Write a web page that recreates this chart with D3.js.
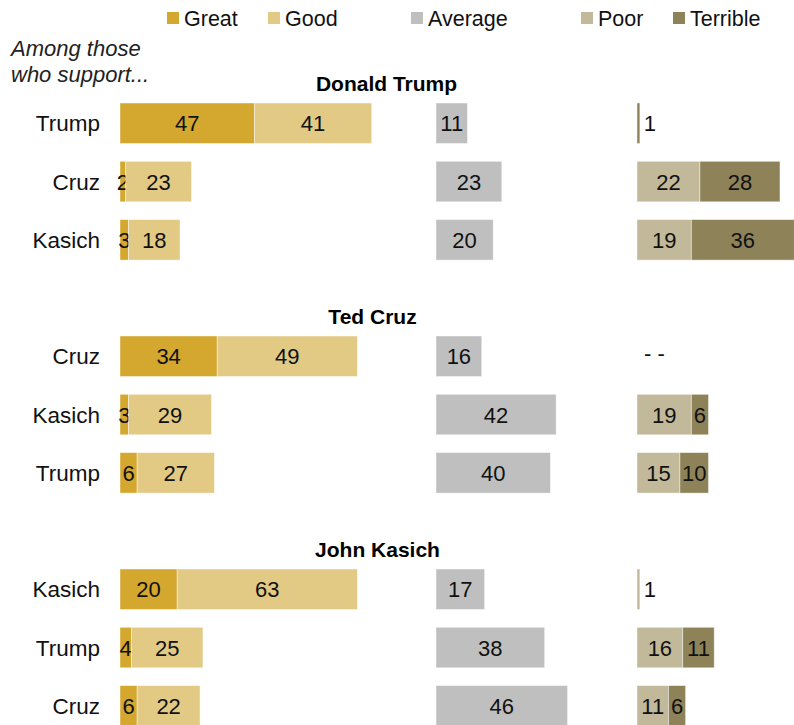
<!DOCTYPE html>
<html>
<head>
<meta charset="utf-8">
<script src="https://cdn.jsdelivr.net/npm/d3@7/dist/d3.min.js"></script>
<style>
  html, body { margin: 0; padding: 0; background: #fff; }
  svg { display: block; font-family: "Liberation Sans", Arial, sans-serif; }
</style>
</head>
<body>
<svg id="chart" width="794" height="725"></svg>
<script>
// ---------- data ----------
const sections = ["Donald Trump", "Ted Cruz", "John Kasich"];
const supporters = [
  ["Trump", "Cruz", "Kasich"],
  ["Cruz", "Kasich", "Trump"],
  ["Kasich", "Trump", "Cruz"]
];
const categories = ["Great", "Good", "Average", "Poor", "Terrible"];
const great = [[47, 2, 3], [34, 3, 6], [20, 4, 6]];
const good = [[41, 23, 18], [49, 29, 27], [63, 25, 22]];
const average = [[11, 23, 20], [16, 42, 40], [17, 38, 46]];
const poor = [[0, 22, 19], [null, 19, 15], [1, 16, 11]];
const terrible = [[1, 28, 36], [null, 6, 10], [0, 11, 6]];
const colors = ["#D4A72E", "#E2CA84", "#BFBFBF", "#C1B99A", "#8E8259"];

// ---------- layout ----------
const svg = d3.select("#chart");
const x = d3.scaleLinear().domain([0, 100]).range([0, 286]);
const colStart = { pos: 120, avg: 436, neg: 637 };
const sectionY = d3.scaleLinear().domain([0, 1]).range([103, 336]);
const rowStep = 58.3, barH = 40.5;
const titleX = [386.5, 372.5, 377.5];
const fs = 22;

// legend
const legendX = [167, 268, 411, 581, 673];
const leg = svg.append("g");
categories.forEach((c, i) => {
  leg.append("rect").attr("x", legendX[i]).attr("y", 12).attr("width", 12).attr("height", 12).attr("fill", colors[i]);
  leg.append("text").attr("x", legendX[i] + 17).attr("y", 26).attr("font-size", 21.5).attr("fill", "#111").text(c);
});

// intro note
svg.append("text").attr("x", 11).attr("y", 56).attr("font-size", 22).attr("font-style", "italic").attr("fill", "#222").text("Among those");
svg.append("text").attr("x", 11).attr("y", 82).attr("font-size", 22).attr("font-style", "italic").attr("fill", "#222").text("who support...");

sections.forEach((title, s) => {
  const top = sectionY(s);
  svg.append("text").attr("x", titleX[s]).attr("y", top - 12).attr("text-anchor", "middle")
    .attr("font-size", 21).attr("font-weight", "bold").attr("fill", "#000").text(title);

  supporters[s].forEach((name, r) => {
    const y0 = top + r * rowStep;
    const cy = y0 + barH / 2;
    const g = svg.append("g");
    g.append("text").attr("x", 100).attr("y", cy + 8).attr("text-anchor", "end")
      .attr("font-size", 22.5).attr("fill", "#111").text(name);

    const groups = [
      { start: colStart.pos, vals: [great[s][r], good[s][r]], cols: [colors[0], colors[1]] },
      { start: colStart.avg, vals: [average[s][r]], cols: [colors[2]] },
      { start: colStart.neg, vals: [poor[s][r], terrible[s][r]], cols: [colors[3], colors[4]] }
    ];
    groups.forEach(grp => {
      if (grp.vals.some(v => v === null)) {
        g.append("text").attr("x", grp.start + 7).attr("y", cy + 5).attr("font-size", fs)
          .attr("fill", "#111").text("- -");
        return;
      }
      let acc = 0;
      const total = d3.sum(grp.vals);
      grp.vals.forEach((v, i) => {
        if (!v) return;
        const xs = grp.start + x(acc), w = x(v);
        g.append("rect").attr("x", xs).attr("y", y0).attr("width", w).attr("height", barH)
          .attr("fill", grp.cols[i]).attr("stroke", "rgba(255,255,255,0.55)").attr("stroke-width", 0.8);
        if (v <= 1) {
          g.append("text").attr("x", grp.start + x(total) + 4).attr("y", cy + 8)
            .attr("font-size", fs).attr("fill", "#111").text(v);
        } else {
          g.append("text").attr("x", xs + w / 2).attr("y", cy + 8).attr("text-anchor", "middle")
            .attr("font-size", fs).attr("fill", "#111").text(v);
        }
        acc += v;
      });
    });
  });
});
</script>
</body>
</html>
